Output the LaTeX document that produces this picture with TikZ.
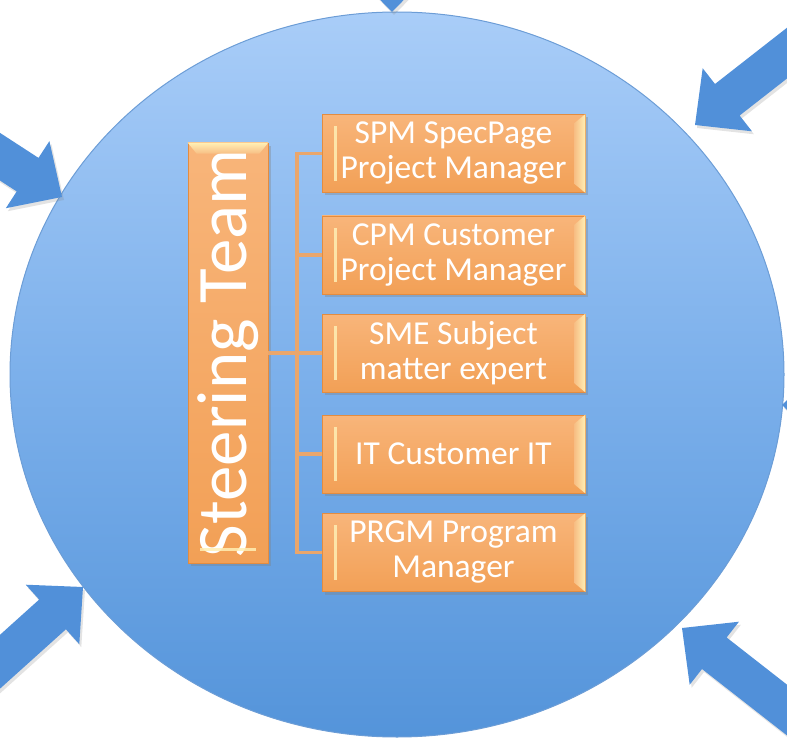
\documentclass[tikz,border=0pt]{standalone}
\usepackage{fontspec}
\setmainfont{Carlito}
\usepackage{graphicx}
\usetikzlibrary{shadows,calc}

\definecolor{discTop}{HTML}{A9CDF8}
\definecolor{discMid}{HTML}{7CB0EB}
\definecolor{discBot}{HTML}{5494DA}
\definecolor{discEdge}{HTML}{6C9DD6}
\definecolor{arrowFill}{HTML}{5190D9}
\definecolor{boxTop}{HTML}{F8B57A}
\definecolor{boxBot}{HTML}{F2A056}
\definecolor{boxEdge}{HTML}{E38C40}
\definecolor{bevelHi}{HTML}{FFEFB4}
\definecolor{bevelLo}{HTML}{F7BE84}
\definecolor{linkCol}{HTML}{E9A66C}

\tikzset{
  rolebox/.style={rectangle, draw=boxEdge, line width=0.6pt,
    top color=boxTop, bottom color=boxBot, text=white,
    minimum width=263pt, minimum height=78pt, inner sep=0pt, align=center,
    font=\fontsize{33.5}{35}\selectfont,
    drop shadow={shadow xshift=3pt, shadow yshift=-3pt, opacity=0.35}},
  steerbox/.style={rectangle, draw=boxEdge, line width=0.6pt,
    top color=boxTop, bottom color=boxBot, text=white,
    minimum width=80pt, minimum height=420pt, inner sep=0pt,
    font=\fontsize{71}{75}\selectfont,
    drop shadow={shadow xshift=3pt, shadow yshift=-3pt, opacity=0.35}},
  link/.style={draw=linkCol, line width=3.5pt},
  blockarrow/.style={fill=arrowFill,
    drop shadow={shadow xshift=2pt, shadow yshift=-3pt, opacity=0.22}},
}

% bevel highlights of a horizontal box
\newcommand\hbevel[1]{%
  \shade[left color=bevelLo, right color=bevelHi]
    (#1.north east) -- (#1.south east) -- ($(#1.south east)+(-11,-9)$)
    -- ($(#1.north east)+(-11,9)$) -- cycle;
  \fill[bevelHi, opacity=0.85]
    ($(#1.north west)+(12,12)$) rectangle ($(#1.south west)+(15,-12)$);
}
% bevel highlights of the upright box
\newcommand\vbevel[1]{%
  \shade[top color=bevelHi, bottom color=bevelLo]
    (#1.north west) -- (#1.north east) -- ($(#1.north east)+(-9,11)$)
    -- ($(#1.north west)+(9,11)$) -- cycle;
  \fill[bevelHi, opacity=0.85]
    ($(#1.south west)+(12,-15)$) rectangle ($(#1.south east)+(-12,-12)$);
}
% block arrow: tip at #1, tail direction #2 (degrees)
\newcommand\blockarr[2]{%
  \begin{scope}[shift={(#1)}, rotate=#2]
    \path[blockarrow] (0,0) -- (41,-40) -- (41,-20) -- (260,-20)
      -- (260,20) -- (41,20) -- (41,40) -- cycle;
  \end{scope}
}

\begin{document}
\begin{tikzpicture}[x=1pt, y=-1pt]
\useasboundingbox (0,0) rectangle (787,738);
\clip (0,0) rectangle (787,738);

% the disc
\shade[top color=discTop, bottom color=discBot, middle color=discMid]
  (397,374.5) ellipse [x radius=387, y radius=362.5];
\draw[discEdge, line width=1pt] (397,374.5) ellipse [x radius=387, y radius=362.5];

% arrows pointing at the disc
\coordinate (tipT)  at (392,12);
\coordinate (tipTR) at (695,125);
\coordinate (tipL)  at (62,197);
\coordinate (tipR)  at (782,405);
\coordinate (tipBL) at (83,587);
\coordinate (tipBR) at (682,628);
\blockarr{tipT}{90}
\blockarr{tipTR}{38}
\blockarr{tipL}{147}
\blockarr{tipR}{0}
\blockarr{tipBL}{222}
\blockarr{tipBR}{-38}

% team boxes
\node[steerbox] (steer) at (228,353) {\rotatebox{90}{Steering Team}};
\node[rolebox] (spm)  at (453.5,153.5) {SPM SpecPage\\Project Manager};
\node[rolebox] (cpm)  at (453.5,255)   {CPM Customer\\Project Manager};
\node[rolebox] (sme)  at (453.5,353)   {SME Subject\\matter expert};
\node[rolebox] (it)   at (453.5,454)   {IT Customer IT};
\node[rolebox] (prgm) at (453.5,552.5) {PRGM Program\\Manager};

\vbevel{steer}
\hbevel{spm}
\hbevel{cpm}
\hbevel{sme}
\hbevel{it}
\hbevel{prgm}

% org connectors
\coordinate (trunk) at (297,0);
\draw[link] (spm.west) -- (spm.west -| trunk) -- (prgm.west -| trunk) -- (prgm.west);
\draw[link] (cpm.west -| trunk) -- (cpm.west);
\draw[link] (sme.west -| trunk) -- (sme.west);
\draw[link] (it.west -| trunk) -- (it.west);
\draw[link] (steer.east) -- (steer.east -| trunk);
\end{tikzpicture}
\end{document}
